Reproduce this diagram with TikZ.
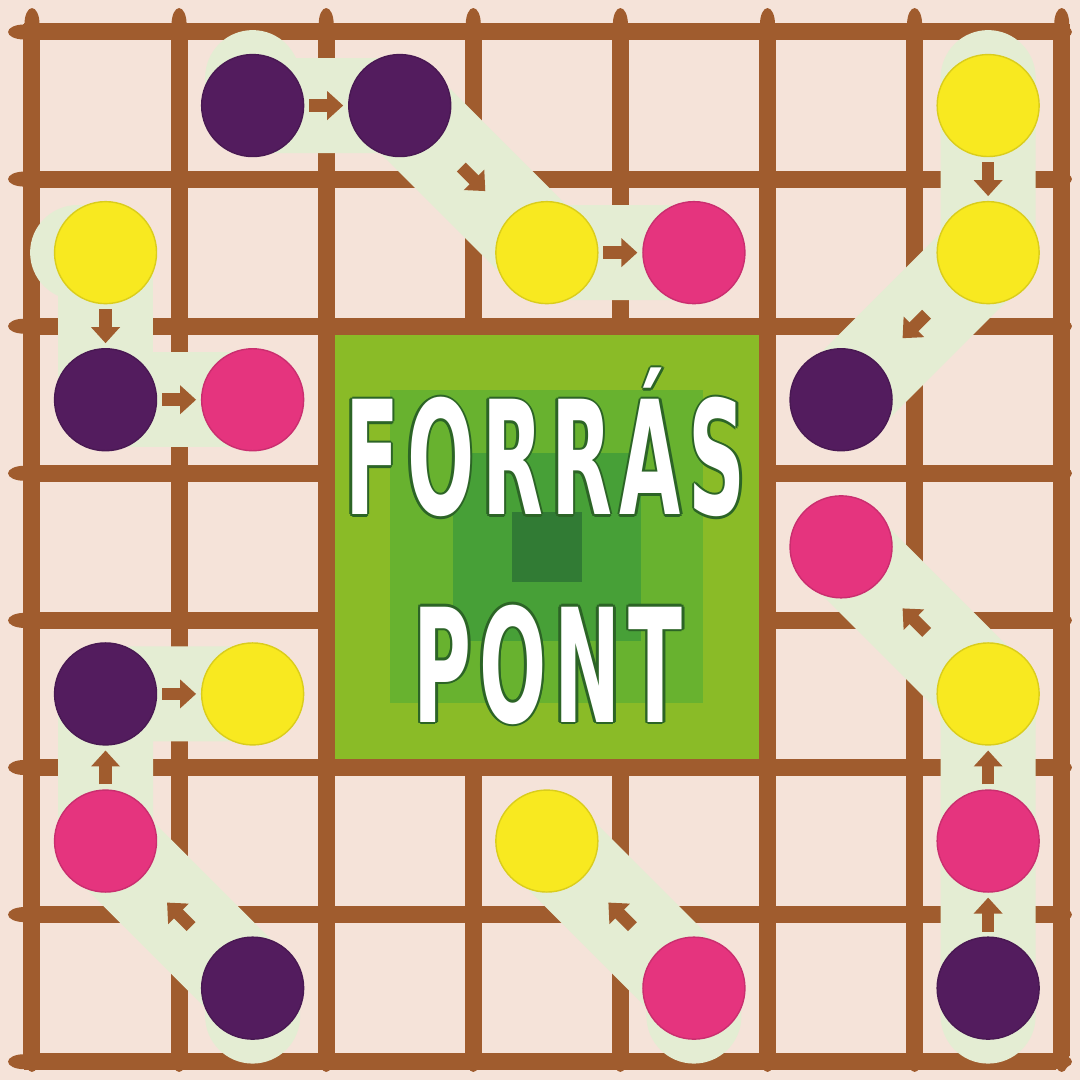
\documentclass[tikz,border=0pt]{standalone}
\usepackage{fontspec}
\usepackage{tikz}
\usetikzlibrary{arrows.meta,calc}
\newfontfamily\signfont[LetterSpace=10]{DejaVu Sans}
\definecolor{Sand}{HTML}{F5E3D9}
\definecolor{Rust}{HTML}{A05C2E}
\definecolor{Band}{HTML}{E4EDD3}
\definecolor{Plum}{HTML}{531C5E}
\definecolor{Sun}{HTML}{F8E920}
\definecolor{Rose}{HTML}{E5347E}
\definecolor{Grass}{HTML}{8ABB27}
\definecolor{Leaf}{HTML}{68B22F}
\definecolor{Moss}{HTML}{47A037}
\definecolor{Pine}{HTML}{317B34}
\definecolor{Rim}{HTML}{2C6426}
\pgfdeclarelayer{grid}
\pgfdeclarelayer{trail}
\pgfsetlayers{grid,trail,main}
\newlength\rimw
\setlength\rimw{0.25mm}
% white letters with a thin dark green edge
\newcommand\rimtext[1]{\leavevmode
  \rlap{\color{Rim}\kern2\rimw #1}\rlap{\color{Rim}\kern-2\rimw #1}%
  \rlap{\color{Rim}\raisebox{\rimw}{#1}}\rlap{\color{Rim}\raisebox{-\rimw}{#1}}%
  \rlap{\color{Rim}\kern1.4\rimw\raisebox{.7\rimw}{#1}}\rlap{\color{Rim}\kern-1.4\rimw\raisebox{.7\rimw}{#1}}%
  \rlap{\color{Rim}\kern1.4\rimw\raisebox{-.7\rimw}{#1}}\rlap{\color{Rim}\kern-1.4\rimw\raisebox{-.7\rimw}{#1}}%
  {\color{white}#1}}
\newcommand\hop[2]{\draw[arr] ($(#1)!.5!(#2)!1.7mm!(#1)$) -- ($(#1)!.5!(#2)!1.7mm!(#2)$);}
\begin{document}
\begin{tikzpicture}[x=1.471cm,y=-1.471cm,
    dot/.style={circle,fill=#1,draw=#1!88!black,line width=.4pt,minimum size=10.2mm,inner sep=0pt},
    trail/.style={line width=9.5mm,draw=Band,line cap=round,line join=round},
    arr/.style={-{Triangle[length=1.6mm,width=2.8mm]},line width=1.25mm,draw=Rust},
    bar/.style={line width=1.7mm,draw=Rust},
    sq/.style={minimum size=#1,inner sep=0pt,outer sep=0pt},
    sign/.style={anchor=base,inner sep=0pt,font=\signfont\bfseries\fontsize{45pt}{50pt}\selectfont}]
  \useasboundingbox (-.2175,-.2175) rectangle (7.1245,7.1245);
  \begin{pgfonlayer}{grid}
    \fill[Sand] (-.2175,-.2175) rectangle (7.1245,7.1245);
    \foreach \k in {0,...,7}{
      \draw[bar] (\k,-.054) -- (\k,6.961);
      \draw[bar] (-.054,\k) -- (6.961,\k);
      \fill[Rust] (\k,-.054) ellipse [x radius=.75mm,y radius=1.6mm];
      \fill[Rust] (\k,6.961) ellipse [x radius=.75mm,y radius=1.6mm];
      \fill[Rust] (-.054,\k) ellipse [x radius=1.6mm,y radius=.75mm];
      \fill[Rust] (6.961,\k) ellipse [x radius=1.6mm,y radius=.75mm];
    }
    % source square
    \fill[Grass] (2,2) rectangle (5,5);
    \draw[bar] (2,2) rectangle (5,5);
    \node[sq=31.3mm,fill=Leaf] (ring1) at (3.5,3.5) {};
    \node[sq=18.8mm,fill=Moss] (ring2) at (3.5,3.5) {};
    \node[sq=7mm,fill=Pine] (ring3) at (3.5,3.5) {};
  \end{pgfonlayer}
  \node[sign] (word1) at (3.491,3.283) {\scalebox{.5}[1]{\rimtext{FORRÁS}}};
  \node[sign] (word2) at (3.508,4.691) {\scalebox{.5}[1]{\rimtext{PONT}}};
  % dots
  \node[dot=Plum] (a1) at (1.5,.5) {};
  \node[dot=Plum] (a2) at (2.5,.5) {};
  \node[dot=Sun]  (a3) at (3.5,1.5) {};
  \node[dot=Rose] (a4) at (4.5,1.5) {};
  \node[dot=Sun]  (b1) at (.5,1.5) {};
  \node[dot=Plum] (b2) at (.5,2.5) {};
  \node[dot=Rose] (b3) at (1.5,2.5) {};
  \node[dot=Sun]  (c1) at (6.5,.5) {};
  \node[dot=Sun]  (c2) at (6.5,1.5) {};
  \node[dot=Plum] (c3) at (5.5,2.5) {};
  \node[dot=Plum] (d1) at (6.5,6.5) {};
  \node[dot=Rose] (d2) at (6.5,5.5) {};
  \node[dot=Sun]  (d3) at (6.5,4.5) {};
  \node[dot=Rose] (d4) at (5.5,3.5) {};
  \node[dot=Rose] (e1) at (4.5,6.5) {};
  \node[dot=Sun]  (e2) at (3.5,5.5) {};
  \node[dot=Plum] (f1) at (1.5,6.5) {};
  \node[dot=Rose] (f2) at (.5,5.5) {};
  \node[dot=Plum] (f3) at (.5,4.5) {};
  \node[dot=Sun]  (f4) at (1.5,4.5) {};
  \coordinate (a0) at ($(a1)+(0,-.19)$);
  \coordinate (b0) at ($(b1)+(-.19,0)$);
  \coordinate (c0) at ($(c1)+(0,-.19)$);
  \coordinate (d0) at ($(d1)+(0,.19)$);
  \coordinate (e0) at ($(e1)+(0,.19)$);
  \coordinate (f0) at ($(f1)+(0,.19)$);
  \begin{pgfonlayer}{trail}
    \draw[trail] (a0) -- (a1.center) -- (a2.center) -- (a3.center) -- (a4.center);
    \draw[trail] (b0) -- (b1.center) -- (b2.center) -- (b3.center);
    \draw[trail] (c0) -- (c1.center) -- (c2.center) -- (c3.center);
    \draw[trail] (d0) -- (d1.center) -- (d2.center) -- (d3.center) -- (d4.center);
    \draw[trail] (e0) -- (e1.center) -- (e2.center);
    \draw[trail] (f0) -- (f1.center) -- (f2.center) -- (f3.center) -- (f4.center);
    \hop{a1}{a2} \hop{a2}{a3} \hop{a3}{a4}
    \hop{b1}{b2} \hop{b2}{b3}
    \hop{c1}{c2} \hop{c2}{c3}
    \hop{d1}{d2} \hop{d2}{d3} \hop{d3}{d4}
    \hop{e1}{e2}
    \hop{f1}{f2} \hop{f2}{f3} \hop{f3}{f4}
  \end{pgfonlayer}
\end{tikzpicture}
\end{document}
